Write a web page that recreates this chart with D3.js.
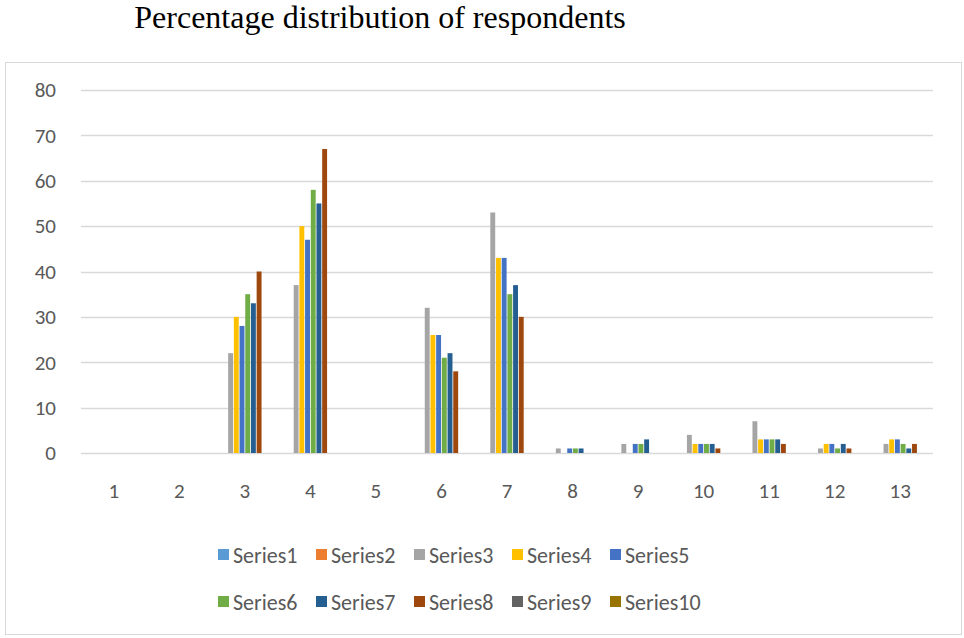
<!DOCTYPE html>
<html>
<head>
<meta charset="utf-8">
<script src="https://cdn.jsdelivr.net/npm/d3@7"></script>
<style>
  body { margin: 0; background: #fff; }
</style>
</head>
<body>
<svg id="chart" width="964" height="638"></svg>
<script>
// data
const categories = ['1', '2', '3', '4', '5', '6', '7', '8', '9', '10', '11', '12', '13'];
const seriesNames = ['Series1', 'Series2', 'Series3', 'Series4', 'Series5',
  'Series6', 'Series7', 'Series8', 'Series9', 'Series10'];
const s1 = [0, 0, 0, 0, 0, 0, 0, 0, 0, 0, 0, 0, 0];
const s2 = [0, 0, 0, 0, 0, 0, 0, 0, 0, 0, 0, 0, 0];
const s3 = [0, 0, 22, 37, 0, 32, 53, 1, 2, 4, 7, 1, 2];
const s4 = [0, 0, 30, 50, 0, 26, 43, 0, 0, 2, 3, 2, 3];
const s5 = [0, 0, 28, 47, 0, 26, 43, 1, 2, 2, 3, 2, 3];
const s6 = [0, 0, 35, 58, 0, 21, 35, 1, 2, 2, 3, 1, 2];
const s7 = [0, 0, 33, 55, 0, 22, 37, 1, 3, 2, 3, 2, 1];
const s8 = [0, 0, 40, 67, 0, 18, 30, 0, 0, 1, 2, 1, 2];
const s9 = [0, 0, 0, 0, 0, 0, 0, 0, 0, 0, 0, 0, 0];
const s10 = [0, 0, 0, 0, 0, 0, 0, 0, 0, 0, 0, 0, 0];
const yTicks = [0, 10, 20, 30, 40, 50, 60, 70, 80];

const allSeries = [s1, s2, s3, s4, s5, s6, s7, s8, s9, s10];
const colors = ['#5B9BD5', '#ED7D31', '#A5A5A5', '#FFC000', '#4472C4',
  '#70AD47', '#255E91', '#9E480E', '#636363', '#997300'];

const svg = d3.select('#chart');
const font = 'Carlito, Calibri, Lato, sans-serif';
const fontSize = '21px';

// outer chart border
svg.append('rect')
  .attr('x', 5.5).attr('y', 62.5)
  .attr('width', 956).attr('height', 572)
  .attr('fill', 'none').attr('stroke', '#d9d9d9');

// title
svg.append('text')
  .attr('x', 380).attr('y', 28)
  .attr('text-anchor', 'middle')
  .style('font-family', '"Liberation Serif", "Times New Roman", serif')
  .style('font-size', '32px')
  .attr('fill', '#000')
  .text('Percentage distribution of respondents');

const plotLeft = 81, plotRight = 933, plotTop = 90, plotBottom = 453;

let x = d3.scaleBand().domain(categories).range([plotLeft, plotRight]).paddingInner(0).paddingOuter(0);
let y = d3.scaleLinear().domain([0, 80]).range([plotBottom, plotTop]);

// gridlines
svg.append('g')
  .selectAll('line')
  .data(yTicks)
  .join('line')
  .attr('x1', plotLeft).attr('x2', plotRight)
  .attr('y1', (d) => Math.round(y(d)) + 0.5)
  .attr('y2', (d) => Math.round(y(d)) + 0.5)
  .attr('stroke', '#d9d9d9')
  .attr('stroke-width', 1.3);

// y labels
svg.append('g')
  .selectAll('text')
  .data(yTicks)
  .join('text')
  .attr('x', 56)
  .attr('y', (d) => y(d))
  .attr('dy', '0.35em')
  .attr('text-anchor', 'end')
  .style('font-family', font)
  .style('font-size', fontSize)
  .attr('fill', '#595959')
  .text((d) => d);

// x labels
svg.append('g')
  .selectAll('text')
  .data(categories)
  .join('text')
  .attr('x', (d) => x(d) + x.bandwidth() / 2)
  .attr('y', 491)
  .attr('dy', '0.35em')
  .attr('text-anchor', 'middle')
  .style('font-family', font)
  .style('font-size', fontSize)
  .attr('fill', '#595959')
  .text((d) => d);

// bars: gap width 150% like the office default
const groupW = x.bandwidth() * 10 / 11.5;
let xs = d3.scaleBand().domain(seriesNames).range([0, groupW]);

const groups = svg.append('g')
  .selectAll('g')
  .data(categories)
  .join('g')
  .attr('transform', (d) => `translate(${x(d) + (x.bandwidth() - groupW) / 2},0)`);

groups.selectAll('rect')
  .data((d, i) => allSeries.map((s, j) => ({ name: seriesNames[j], value: s[i], color: colors[j] })))
  .join('rect')
  .attr('x', (d) => xs(d.name) + 0.4)
  .attr('width', xs.bandwidth() - 0.8)
  .attr('y', (d) => y(d.value))
  .attr('height', (d) => y(0) - y(d.value))
  .attr('fill', (d) => d.color);

// legend
const legendX = [218, 316, 414, 512, 610];
const legendY = [555, 602];
const legend = svg.append('g')
  .selectAll('g')
  .data(seriesNames)
  .join('g')
  .attr('transform', (d, i) => `translate(${legendX[i % 5]},${legendY[Math.floor(i / 5)]})`);

legend.append('rect')
  .attr('x', 0).attr('y', -6)
  .attr('width', 11).attr('height', 11)
  .attr('fill', (d, i) => colors[i]);

legend.append('text')
  .attr('x', 15).attr('y', 0)
  .attr('dy', '0.35em')
  .style('font-family', font)
  .style('font-size', '22px')
  .attr('fill', '#595959')
  .text((d) => d);
</script>
</body>
</html>
